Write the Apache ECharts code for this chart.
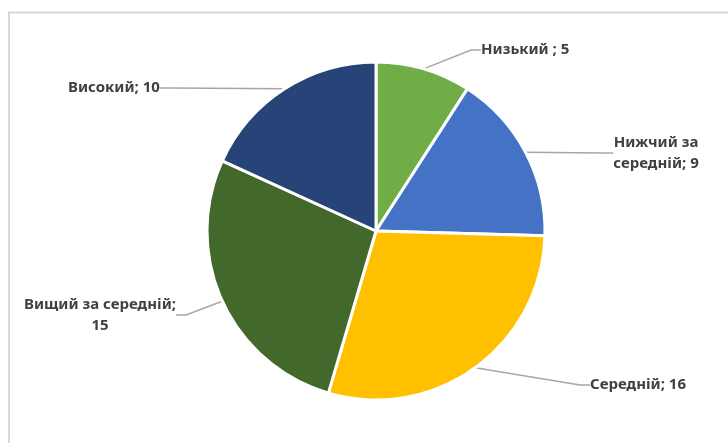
<!DOCTYPE html>
<html>
<head>
<meta charset="utf-8">
<script src="https://cdn.jsdelivr.net/npm/echarts@6/dist/echarts.min.js"></script>
<style>
html,body{margin:0;padding:0;background:#fff;}
#chart{width:728px;height:443px;}
</style>
</head>
<body>
<div id="chart"></div>
<script>
// Data
const categories = ['Низький', 'Нижчий за середній', 'Середній', 'Вищий за середній', 'Високий'];
const values = [5, 9, 16, 15, 10];
const labelTexts = ['Низький ; 5', 'Нижчий за\nсередній; 9', 'Середній; 16', 'Вищий за середній;\n15', 'Високий; 10'];
const colors = ['#70AD47', '#4472C4', '#FFC000', '#43682B', '#264478'];

// Label placement (layout only)
const labelPos = [
  {x: 481, y: 50, align: 'left'},
  {x: 656, y: 153, align: 'center'},
  {x: 590, y: 385, align: 'left'},
  {x: 100, y: 315, align: 'center'},
  {x: 68, y: 88, align: 'left'}
];

const chart = echarts.init(document.getElementById('chart'), null, {renderer: 'canvas'});
chart.setOption({
  backgroundColor: '#ffffff',
  animation: false,
  graphic: [{
    type: 'rect',
    shape: {x: 9, y: 12.5, width: 760, height: 460},
    style: {fill: 'none', stroke: '#D9D9D9', lineWidth: 2},
    silent: true
  }],
  series: [{
    type: 'pie',
    center: [376, 231],
    radius: 169,
    startAngle: 90,
    clockwise: true,
    data: categories.map((c, i) => ({name: c, value: values[i], itemStyle: {color: colors[i]}})),
    itemStyle: {borderColor: '#ffffff', borderWidth: 3},
    label: {
      show: true,
      formatter: p => labelTexts[p.dataIndex],
      fontFamily: 'Noto Sans',
      fontWeight: 'bold',
      fontSize: 15,
      color: '#404040',
      lineHeight: 21
    },
    labelLine: {
      show: true,
      length: 10,
      length2: 10,
      lineStyle: {color: '#A6A6A6', width: 1.5}
    },
    labelLayout: function (params) {
      const p = labelPos[params.dataIndex];
      return {x: p.x, y: p.y, align: p.align, verticalAlign: 'middle'};
    }
  }]
});
</script>
</body>
</html>
